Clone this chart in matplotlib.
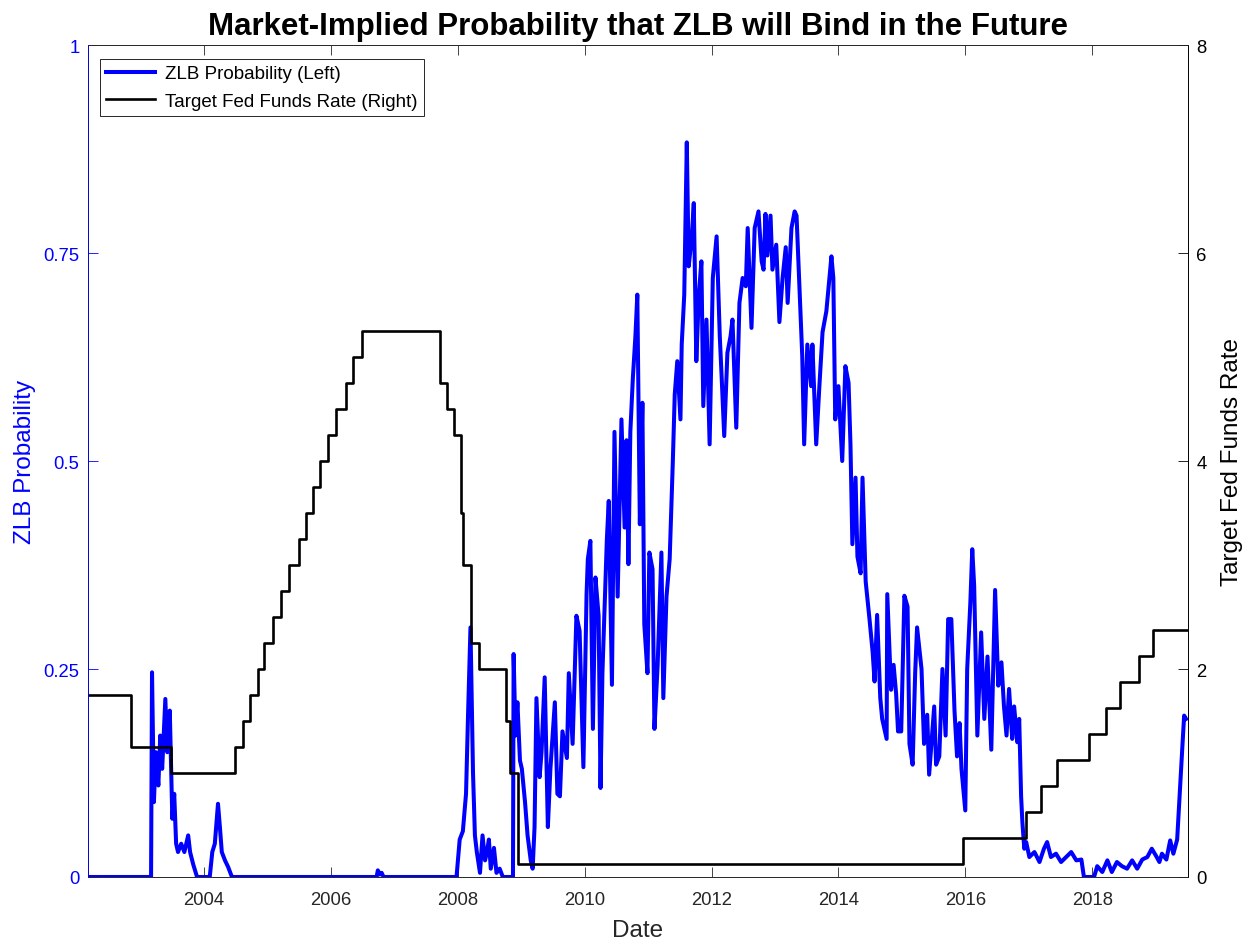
import numpy as np
import pandas as pd
import matplotlib
matplotlib.use("Agg")
import matplotlib.pyplot as plt

plt.rcParams['font.family'] = ['Liberation Sans', 'DejaVu Sans']

# ZLB probability (left axis), decimal year / probability
prob_year = [
    2002.17, 2003.165, 2003.18, 2003.21, 2003.24, 2003.28, 2003.31, 2003.34, 2003.39, 2003.42,
    2003.46, 2003.50, 2003.53, 2003.56, 2003.59, 2003.64, 2003.69, 2003.75, 2003.78, 2003.83,
    2003.89, 2004.09, 2004.13, 2004.17, 2004.22, 2004.25, 2004.28, 2004.33, 2004.38, 2004.44,
    2006.72, 2006.74, 2006.77, 2006.80, 2006.83,
    2007.98, 2008.03, 2008.08, 2008.13, 2008.16, 2008.20, 2008.24, 2008.27, 2008.30, 2008.35,
    2008.39, 2008.43, 2008.46, 2008.49, 2008.52, 2008.57, 2008.61, 2008.66, 2008.71, 2008.87,
    2008.88, 2008.91, 2008.94, 2008.98, 2009.01, 2009.06, 2009.10, 2009.15, 2009.18, 2009.21,
    2009.24, 2009.29, 2009.32, 2009.37, 2009.42, 2009.46, 2009.53, 2009.57,
    2009.61, 2009.65, 2009.72, 2009.75, 2009.81, 2009.87, 2009.92, 2009.98, 2010.03, 2010.05,
    2010.09, 2010.13, 2010.17, 2010.22, 2010.25, 2010.28, 2010.35, 2010.38, 2010.43, 2010.47,
    2010.52, 2010.58, 2010.63, 2010.66, 2010.69, 2010.72, 2010.76, 2010.80, 2010.83, 2010.87,
    2010.91, 2010.94, 2010.99, 2011.02, 2011.07, 2011.10, 2011.15, 2011.21, 2011.24, 2011.29,
    2011.34, 2011.39,
    2011.42, 2011.46, 2011.51, 2011.53, 2011.57, 2011.61, 2011.64, 2011.69, 2011.72, 2011.76,
    2011.80, 2011.84, 2011.87, 2011.92, 2011.97, 2012.02, 2012.08, 2012.13, 2012.16, 2012.20,
    2012.25, 2012.30, 2012.33, 2012.39, 2012.44, 2012.49, 2012.54, 2012.57, 2012.63, 2012.68,
    2012.74, 2012.79, 2012.82, 2012.85, 2012.88, 2012.93, 2012.96, 2013.02, 2013.07, 2013.12,
    2013.17, 2013.20, 2013.26, 2013.31, 2013.34, 2013.39, 2013.43, 2013.46, 2013.51, 2013.57,
    2013.59, 2013.65, 2013.70, 2013.75, 2013.81, 2013.89, 2013.92, 2013.95,
    2014.00, 2014.06, 2014.11, 2014.16, 2014.19, 2014.22, 2014.27, 2014.30, 2014.35, 2014.38,
    2014.43, 2014.49, 2014.54, 2014.57, 2014.61, 2014.66, 2014.69, 2014.76, 2014.77, 2014.83,
    2014.87, 2014.91, 2014.94, 2014.99, 2015.04, 2015.09, 2015.12, 2015.17, 2015.21, 2015.24,
    2015.31, 2015.35, 2015.40, 2015.43, 2015.48, 2015.51, 2015.54, 2015.59, 2015.64, 2015.69,
    2015.73, 2015.78, 2015.83, 2015.87, 2015.91, 2015.94, 2016.00, 2016.03, 2016.08, 2016.11,
    2016.14, 2016.19, 2016.25, 2016.30, 2016.35, 2016.41, 2016.47, 2016.52,
    2016.57, 2016.61, 2016.65, 2016.69, 2016.74, 2016.77, 2016.82, 2016.85, 2016.88, 2016.90,
    2016.93, 2016.96, 2017.01, 2017.09, 2017.17, 2017.24, 2017.29, 2017.35, 2017.43, 2017.51,
    2017.59, 2017.67, 2017.75, 2017.83, 2017.87, 2018.03, 2018.08, 2018.16, 2018.24, 2018.31,
    2018.39, 2018.47, 2018.55, 2018.63, 2018.71, 2018.79, 2018.87, 2018.94, 2019.01, 2019.06,
    2019.10, 2019.17, 2019.23, 2019.28, 2019.34, 2019.39, 2019.42, 2019.45, 2019.48,
]
prob_value = [
    0.0, 0.0, 0.246, 0.09, 0.15, 0.11, 0.17, 0.13, 0.214, 0.15,
    0.20, 0.07, 0.10, 0.04, 0.03, 0.04, 0.03, 0.05, 0.03, 0.015,
    0.0, 0.0, 0.03, 0.04, 0.088, 0.06, 0.03, 0.02, 0.012, 0.0,
    0.0, 0.008, 0.003, 0.005, 0.0,
    0.0, 0.045, 0.055, 0.10, 0.19, 0.30, 0.125, 0.05, 0.03, 0.005,
    0.05, 0.02, 0.03, 0.045, 0.01, 0.035, 0.005, 0.01, 0.0, 0.0,
    0.268, 0.17, 0.21, 0.14, 0.13, 0.09, 0.05, 0.02, 0.01, 0.06,
    0.215, 0.12, 0.15, 0.24, 0.06, 0.13, 0.21, 0.10,
    0.097, 0.175, 0.143, 0.245, 0.16, 0.314, 0.296, 0.132, 0.34, 0.382,
    0.404, 0.178, 0.36, 0.314, 0.107, 0.245, 0.406, 0.452, 0.231, 0.535,
    0.337, 0.55, 0.42, 0.525, 0.376, 0.535, 0.60, 0.65, 0.70, 0.424,
    0.57, 0.304, 0.245, 0.39, 0.37, 0.178, 0.254, 0.39, 0.215, 0.337,
    0.382, 0.50,
    0.58, 0.62, 0.55, 0.64, 0.70, 0.883, 0.734, 0.77, 0.81, 0.62,
    0.70, 0.74, 0.566, 0.67, 0.52, 0.72, 0.77, 0.65, 0.60, 0.53,
    0.63, 0.65, 0.67, 0.54, 0.69, 0.72, 0.71, 0.78, 0.66, 0.78,
    0.80, 0.74, 0.73, 0.797, 0.747, 0.795, 0.73, 0.76, 0.667, 0.72,
    0.757, 0.69, 0.78, 0.80, 0.795, 0.70, 0.626, 0.52, 0.64, 0.59,
    0.64, 0.52, 0.59, 0.655, 0.68, 0.746, 0.72, 0.55,
    0.59, 0.50, 0.614, 0.594, 0.52, 0.40, 0.48, 0.385, 0.365, 0.48,
    0.355, 0.31, 0.27, 0.235, 0.315, 0.215, 0.19, 0.166, 0.34, 0.225,
    0.255, 0.22, 0.175, 0.175, 0.338, 0.325, 0.16, 0.135, 0.245, 0.30,
    0.25, 0.16, 0.195, 0.123, 0.175, 0.205, 0.135, 0.145, 0.25, 0.17,
    0.31, 0.31, 0.20, 0.145, 0.185, 0.13, 0.08, 0.25, 0.33, 0.394,
    0.35, 0.17, 0.294, 0.19, 0.265, 0.153, 0.345, 0.23,
    0.258, 0.205, 0.17, 0.226, 0.166, 0.205, 0.162, 0.19, 0.097, 0.066,
    0.034, 0.042, 0.024, 0.03, 0.018, 0.034, 0.042, 0.024, 0.028, 0.018,
    0.024, 0.03, 0.02, 0.021, 0.0, 0.0, 0.013, 0.006, 0.02, 0.006,
    0.018, 0.013, 0.01, 0.02, 0.01, 0.021, 0.024, 0.034, 0.025, 0.018,
    0.028, 0.021, 0.044, 0.028, 0.045, 0.114, 0.154, 0.194, 0.19,
]

# Target fed funds rate (right axis), midpoint of the target range after Dec 2008
ffr_dates = [
    '2002-03-04', '2002-11-06', '2003-06-25', '2004-06-30', '2004-08-10', '2004-09-21',
    '2004-11-10', '2004-12-14', '2005-02-02', '2005-03-22', '2005-05-03', '2005-06-30',
    '2005-08-09', '2005-09-20', '2005-11-01', '2005-12-13', '2006-01-31', '2006-03-28',
    '2006-05-10', '2006-06-29', '2007-09-18', '2007-10-31', '2007-12-11', '2008-01-22',
    '2008-01-30', '2008-03-18', '2008-04-30', '2008-10-08', '2008-10-29', '2008-12-16',
    '2015-12-16', '2016-12-14', '2017-03-15', '2017-06-14', '2017-12-13', '2018-03-21',
    '2018-06-13', '2018-09-26', '2018-12-19', '2019-07-05',
]
ffr_value = [
    1.75, 1.25, 1.00, 1.25, 1.50, 1.75,
    2.00, 2.25, 2.50, 2.75, 3.00, 3.25,
    3.50, 3.75, 4.00, 4.25, 4.50, 4.75,
    5.00, 5.25, 4.75, 4.50, 4.25, 3.50,
    3.00, 2.25, 2.00, 1.50, 1.00, 0.125,
    0.375, 0.625, 0.875, 1.125, 1.375, 1.625,
    1.875, 2.125, 2.375, 2.375,
]

left_ticks = [0, 0.25, 0.5, 0.75, 1]
left_ticklabels = ['0', '0.25', '0.5', '0.75', '1']
right_ticks = [0, 2, 4, 6, 8]
year_ticks = [2004, 2006, 2008, 2010, 2012, 2014, 2016, 2018]


def to_decimal_year(dates):
    d = pd.to_datetime(pd.Series(dates))
    days_in_year = np.where(d.dt.is_leap_year, 366.0, 365.0)
    return (d.dt.year + (d.dt.dayofyear - 1) / days_in_year).to_numpy()


ffr_year = to_decimal_year(ffr_dates)

axis_grey = '#262626'

fig = plt.figure(figsize=(12.51, 9.45), dpi=100)
ax = fig.add_axes([0.0703, 0.0709, 0.8793, 0.8804])
ax2 = ax.twinx()

l1, = ax.plot(prob_year, prob_value, color='#0000ff', lw=2.9, solid_joinstyle='round')
l2, = ax2.plot(ffr_year, ffr_value, color='black', lw=1.9, drawstyle='steps-post')

ax.set_xlim(2002.17, 2019.51)
ax.set_ylim(0, 1)
ax2.set_ylim(0, 8)

ax.set_xticks(year_ticks)
ax.set_xticklabels([str(y) for y in year_ticks])
ax.set_yticks(left_ticks)
ax.set_yticklabels(left_ticklabels)
ax2.set_yticks(right_ticks)

ax.tick_params(axis='x', direction='in', length=7.5, width=0.6, colors=axis_grey,
               labelsize=13.3, top=True, pad=10)
ax.tick_params(axis='y', direction='in', length=7.5, width=0.6, colors='#0000ff',
               labelsize=13.3, pad=6)
ax2.tick_params(axis='y', direction='in', length=7.5, width=0.6, colors='black',
                labelsize=13.3, pad=6)

for a in (ax, ax2):
    a.spines['top'].set_color(axis_grey)
    a.spines['bottom'].set_color(axis_grey)
    for s in a.spines.values():
        s.set_linewidth(0.6)
ax2.spines['left'].set_color('#0000ff')
ax2.spines['right'].set_color('black')

ax.set_xlabel('Date', fontsize=17.5, color=axis_grey, labelpad=8)
ax.set_ylabel('ZLB Probability', fontsize=17.5, color='#0000ff', labelpad=5.5)
ax2.set_ylabel('Target Fed Funds Rate', fontsize=17.5, color='black', labelpad=10)
ax.set_title('Market-Implied Probability that ZLB will Bind in the Future',
             fontsize=22.5, fontweight='bold', pad=8)

leg = ax2.legend([l1, l2], ['ZLB Probability (Left)', 'Target Fed Funds Rate (Right)'],
                 loc='upper left', bbox_to_anchor=(0.011, 0.983), borderaxespad=0,
                 fontsize=13.5, fancybox=False, framealpha=1, edgecolor='#262626',
                 handlelength=2.6, borderpad=0.32, labelspacing=0.55, handletextpad=0.55)
leg.get_frame().set_linewidth(0.7)

fig.savefig('out.png', dpi=100)
